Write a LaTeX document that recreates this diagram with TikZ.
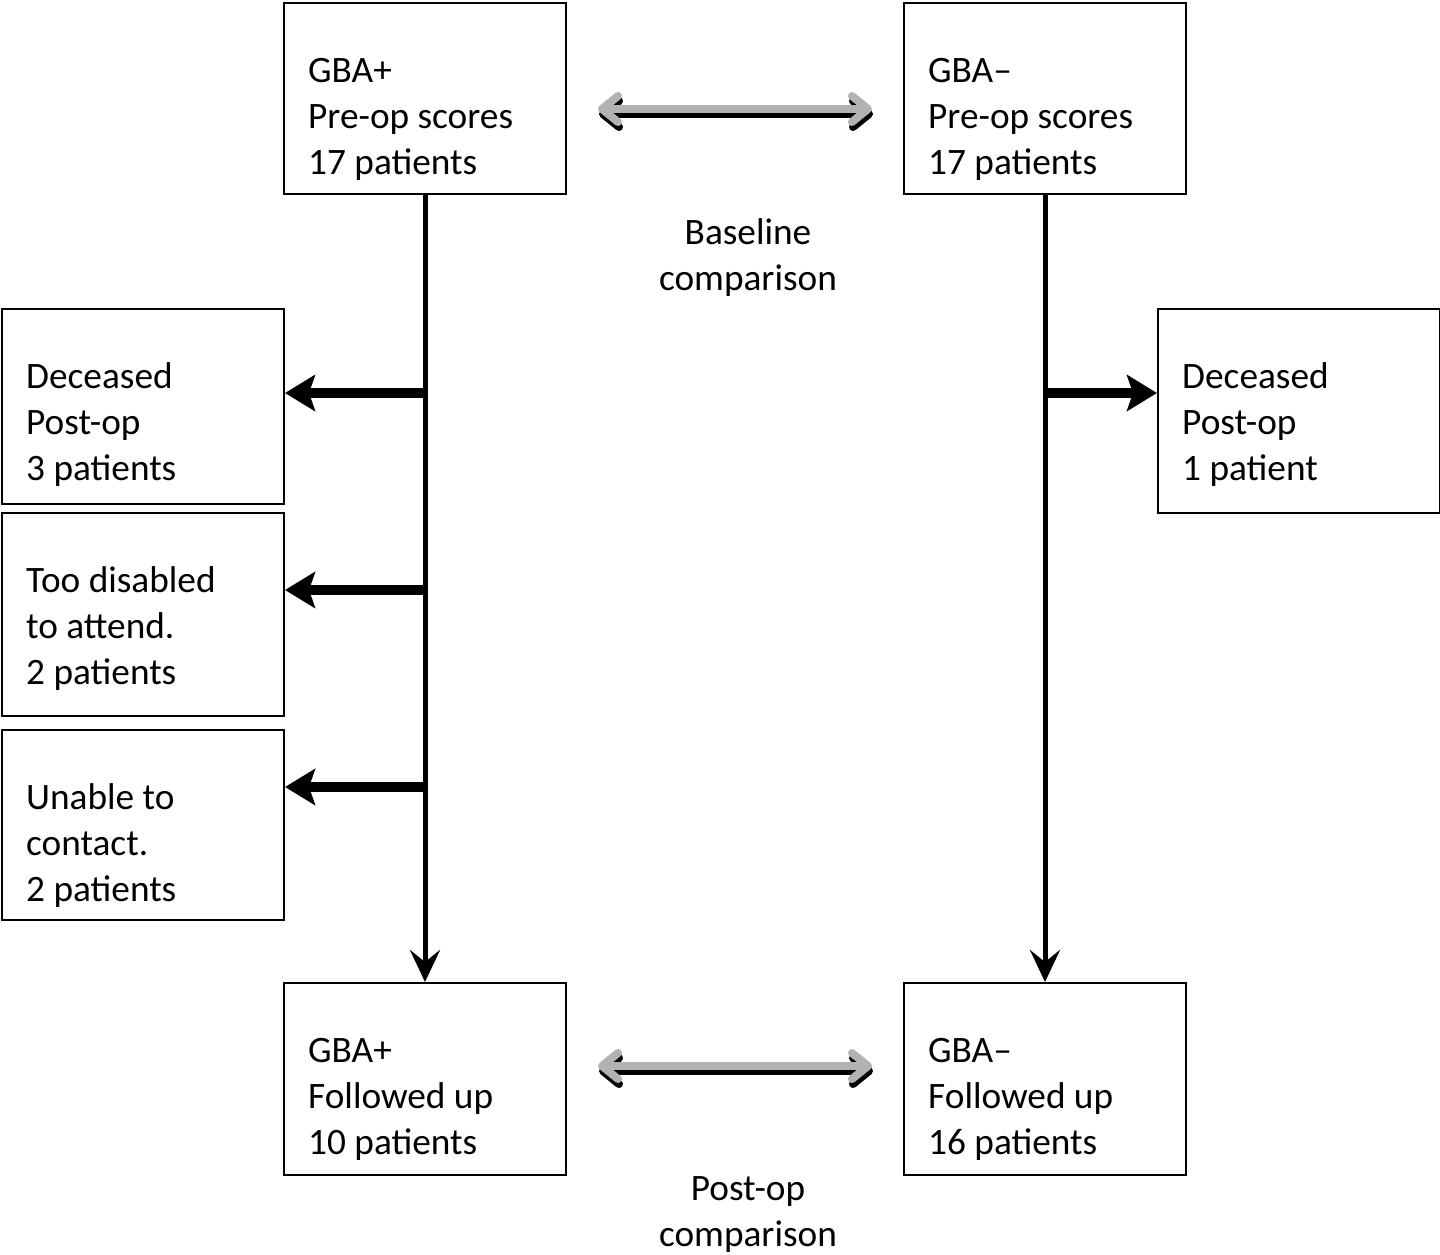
\documentclass[tikz,border=0pt]{standalone}
\usepackage{fontspec}
\setmainfont{Carlito}
\usetikzlibrary{arrows.meta,calc}
\begin{document}
\begin{tikzpicture}[x=1pt,y=-1pt,
  box/.style={draw,line width=2pt,anchor=north west,inner sep=0pt,minimum width=282pt},
  txt/.style={anchor=north west,inner sep=0pt,align=left,font=\fontsize{37.3}{46}\selectfont},
  lbl/.style={anchor=north,inner sep=0pt,align=center,font=\fontsize{37.3}{46}\selectfont},
  vline/.style={line width=5pt,-{Stealth[length=32pt,width=30pt,inset=12pt]}},
  branch/.style={line width=10pt,-{Stealth[length=30pt,width=36pt,inset=6pt]}},
  dbl/.style={line width=8pt,{Straight Barb[length=16pt,width=26pt,round]}-{Straight Barb[length=16pt,width=26pt,round]}},
]
\useasboundingbox (0,0) rectangle (1440,1254);
% boxes
\node[box,minimum height=191pt] (tl) at (283,2) {};
\node[box,minimum height=191pt] (tr) at (903,2) {};
\node[box,minimum height=192pt] (bl) at (283,982) {};
\node[box,minimum height=192pt] (br) at (903,982) {};
\node[box,minimum height=195pt] (d1) at (1,308) {};
\node[box,minimum height=203pt] (d2) at (1,512) {};
\node[box,minimum height=190pt] (d3) at (1,729) {};
\node[box,minimum height=204pt] (d4) at (1157,308) {};
% texts
\node[txt] (ttl) at (308,58) {GBA+\\Pre-op scores\\17 patients};
\node[txt] (ttr) at (928,58) {GBA–\\Pre-op scores\\17 patients};
\node[txt] (tbl) at (308,1038) {GBA+\\Followed up\\10 patients};
\node[txt] (tbr) at (928,1038) {GBA–\\Followed up\\16 patients};
\node[txt] (td1) at (26,362) {Deceased\\Post-op\\3 patients};
\node[txt] (td2) at (26,566) {Too disabled\\to attend.\\2 patients};
\node[txt] (td3) at (26,783) {Unable to\\contact.\\2 patients};
\node[txt] (td4) at (1182,362) {Deceased\\Post-op\\1 patient};
\node[lbl] (base) at (748,218) {Baseline\\comparison};
\node[lbl] (post) at (748,1176) {Post-op\\comparison};
% main flow
\draw[vline] (tl.south) -- (bl.north);
\draw[vline] (tr.south) -- (br.north);
% branches
\coordinate (b1) at (424,393);
\coordinate (b2) at (424,590);
\coordinate (b3) at (424,787);
\coordinate (b4) at (1044,393);
\draw[branch] (b1) -- (b1 -| d1.east);
\draw[branch] (b2) -- (b2 -| d2.east);
\draw[branch] (b3) -- (b3 -| d3.east);
\draw[branch] (b4) -- (b4 -| d4.west);
% comparison arrows
\coordinate (c1) at (598,109);
\coordinate (c2) at (872,109);
\coordinate (c3) at (598,1066);
\coordinate (c4) at (872,1066);
\draw[dbl,black] ($(c1)+(1,5)$) -- ($(c2)+(1,5)$);
\draw[dbl,black!30] (c1) -- (c2);
\draw[dbl,black] ($(c3)+(1,5)$) -- ($(c4)+(1,5)$);
\draw[dbl,black!30] (c3) -- (c4);
\end{tikzpicture}
\end{document}
